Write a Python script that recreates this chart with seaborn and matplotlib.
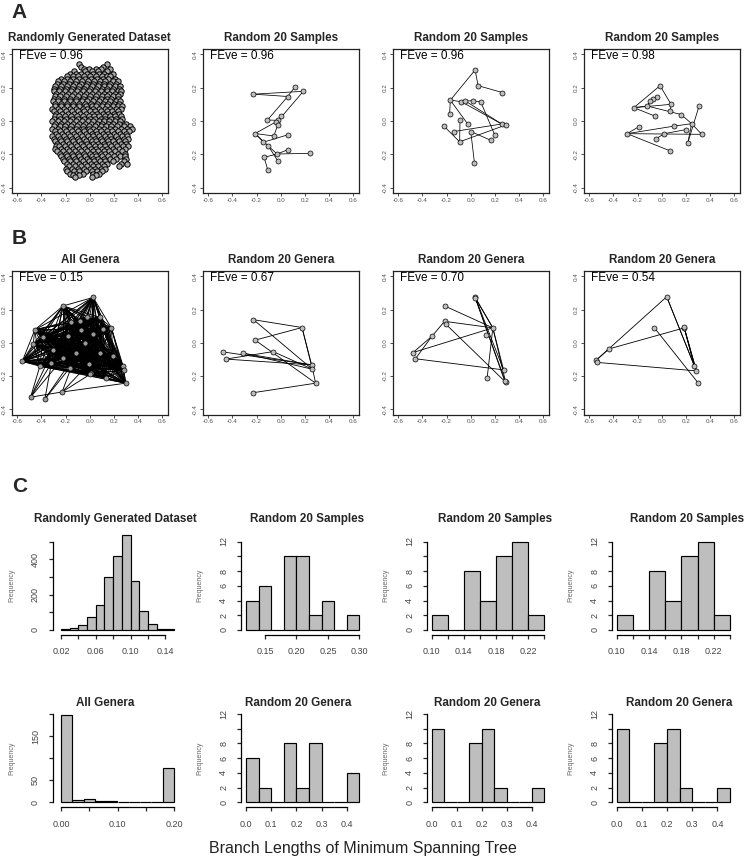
import numpy as np
import pandas as pd
import matplotlib
matplotlib.use("Agg")
import matplotlib.pyplot as plt
import seaborn as sns
from matplotlib.collections import LineCollection
from matplotlib.ticker import FixedLocator, FixedFormatter

W, H = 748, 861

# ---------------- data: panel A (trait space, MST) ----------------
# randomly generated dataset (y, xs)
blob_rows = [
    (0.34, [-0.09, 0.14]),
    (0.325, [-0.07, 0.11]),
    (0.31, [-0.05, -0.01, 0.05, 0.09, 0.17]),
    (0.298, [-0.13, -0.04, 0.02, 0.07, 0.14]),
    (0.285, [-0.16, -0.11, -0.07, -0.02, 0.03, 0.08, 0.12, 0.19]),
    (0.27, [-0.19, -0.135, -0.095, -0.045, 0.005, 0.055, 0.10, 0.145, 0.17]),
    (0.255, [-0.24, -0.19, -0.14, -0.09, -0.04, 0.01, 0.06, 0.11, 0.15, 0.21]),
    (0.24, [-0.265, -0.215, -0.165, -0.115, -0.065, -0.015, 0.035, 0.085, 0.13, 0.19, 0.23]),
    (0.225, [-0.27, -0.22, -0.17, -0.12, -0.07, -0.02, 0.03, 0.08, 0.12, 0.17, 0.22]),
    (0.21, [-0.285, -0.235, -0.185, -0.135, -0.085, -0.03, 0.02, 0.07, 0.115, 0.16, 0.21, 0.25]),
    (0.195, [-0.30, -0.25, -0.20, -0.15, -0.10, -0.05, 0.00, 0.05, 0.10, 0.14, 0.19, 0.24]),
    (0.18, [-0.295, -0.255, -0.205, -0.155, -0.105, -0.055, -0.005, 0.045, 0.095, 0.14, 0.185, 0.23, 0.26]),
    (0.165, [-0.28, -0.23, -0.18, -0.13, -0.08, -0.03, 0.02, 0.07, 0.12, 0.16, 0.21, 0.25]),
    (0.15, [-0.29, -0.245, -0.195, -0.145, -0.095, -0.045, 0.005, 0.05, 0.10, 0.145, 0.19, 0.235]),
    (0.135, [-0.30, -0.26, -0.21, -0.16, -0.11, -0.06, -0.01, 0.04, 0.09, 0.14, 0.18, 0.23]),
    (0.12, [-0.305, -0.265, -0.215, -0.165, -0.115, -0.065, -0.02, 0.03, 0.075, 0.125, 0.17, 0.215, 0.25]),
    (0.105, [-0.29, -0.24, -0.19, -0.14, -0.09, -0.04, 0.01, 0.06, 0.11, 0.15, 0.20, 0.24]),
    (0.09, [-0.285, -0.235, -0.185, -0.135, -0.085, -0.035, 0.015, 0.055, 0.10, 0.145, 0.19, 0.235, 0.27]),
    (0.075, [-0.31, -0.26, -0.21, -0.16, -0.11, -0.06, -0.02, 0.03, 0.08, 0.13, 0.17, 0.22, 0.26]),
    (0.06, [-0.30, -0.245, -0.195, -0.15, -0.095, -0.045, 0.005, 0.045, 0.095, 0.14, 0.185, 0.23]),
    (0.045, [-0.28, -0.23, -0.18, -0.13, -0.08, -0.03, 0.02, 0.06, 0.11, 0.15, 0.20, 0.24]),
    (0.03, [-0.29, -0.255, -0.205, -0.155, -0.105, -0.055, -0.01, 0.035, 0.08, 0.125, 0.17, 0.21, 0.255]),
    (0.015, [-0.30, -0.25, -0.20, -0.15, -0.10, -0.05, 0.00, 0.04, 0.09, 0.13, 0.18, 0.22, 0.27]),
    (0.0, [-0.31, -0.265, -0.215, -0.165, -0.115, -0.065, -0.015, 0.025, 0.075, 0.115, 0.16, 0.205, 0.25]),
    (-0.015, [-0.29, -0.24, -0.19, -0.14, -0.09, -0.04, 0.01, 0.06, 0.10, 0.15, 0.19, 0.24, 0.30]),
    (-0.03, [-0.30, -0.25, -0.205, -0.155, -0.105, -0.055, -0.005, 0.045, 0.09, 0.135, 0.18, 0.225, 0.28, 0.33]),
    (-0.045, [-0.31, -0.26, -0.21, -0.16, -0.11, -0.06, -0.01, 0.03, 0.08, 0.12, 0.17, 0.21, 0.26, 0.31, 0.35]),
    (-0.06, [-0.29, -0.245, -0.195, -0.145, -0.095, -0.045, 0.005, 0.05, 0.095, 0.14, 0.185, 0.23, 0.28, 0.325]),
    (-0.075, [-0.28, -0.23, -0.18, -0.13, -0.08, -0.03, 0.02, 0.06, 0.11, 0.15, 0.20, 0.25, 0.30]),
    (-0.09, [-0.31, -0.26, -0.21, -0.16, -0.115, -0.065, -0.015, 0.03, 0.075, 0.125, 0.165, 0.215, 0.265, 0.31]),
    (-0.105, [-0.30, -0.25, -0.20, -0.15, -0.10, -0.05, 0.00, 0.04, 0.09, 0.14, 0.18, 0.23, 0.28, 0.32]),
    (-0.12, [-0.285, -0.235, -0.185, -0.135, -0.085, -0.035, 0.015, 0.055, 0.105, 0.15, 0.195, 0.245, 0.29]),
    (-0.135, [-0.27, -0.22, -0.17, -0.12, -0.07, -0.02, 0.03, 0.07, 0.12, 0.16, 0.21, 0.26, 0.30]),
    (-0.15, [-0.28, -0.255, -0.205, -0.155, -0.105, -0.055, -0.01, 0.04, 0.085, 0.13, 0.175, 0.225, 0.275, 0.315]),
    (-0.165, [-0.29, -0.24, -0.19, -0.14, -0.09, -0.04, 0.01, 0.05, 0.10, 0.14, 0.19, 0.24, 0.29]),
    (-0.18, [-0.27, -0.22, -0.17, -0.12, -0.07, -0.02, 0.025, 0.07, 0.115, 0.16, 0.21, 0.265]),
    (-0.195, [-0.25, -0.20, -0.15, -0.10, -0.05, 0.00, 0.04, 0.09, 0.13, 0.18, 0.23, 0.29]),
    (-0.21, [-0.235, -0.19, -0.14, -0.09, -0.04, 0.015, 0.055, 0.105, 0.15, 0.20, 0.25, 0.29]),
    (-0.225, [-0.22, -0.17, -0.12, -0.07, -0.02, 0.03, 0.07, 0.12, 0.17, 0.22, 0.30]),
    (-0.24, [-0.21, -0.16, -0.11, -0.06, -0.01, 0.035, 0.085, 0.125, 0.19, 0.28]),
    (-0.255, [-0.19, -0.14, -0.09, -0.04, 0.01, 0.05, 0.10, 0.14, 0.26, 0.31]),
    (-0.27, [-0.175, -0.125, -0.075, -0.02, 0.025, 0.07, 0.115, 0.24]),
    (-0.285, [-0.20, -0.15, -0.10, -0.05, 0.00, 0.04, 0.09, 0.13]),
    (-0.30, [-0.185, -0.13, -0.085, -0.035, 0.015, 0.06, 0.10]),
    (-0.315, [-0.16, -0.11, -0.06, 0.03, 0.08]),
    (-0.325, [-0.14, -0.09, 0.05]),
    (-0.335, [-0.12, 0.02]),
]

a2_x = [0.116, 0.187, -0.226, 0.058, -0.110, 0.003, -0.019, -0.036, -0.025, -0.212,
        -0.058, 0.063, -0.143, -0.102, 0.063, -0.030, 0.240, -0.138, -0.025, -0.107]
a2_y = [0.204, 0.178, 0.161, 0.147, 0.006, 0.029, 0.004, -0.004, -0.025, -0.075,
        -0.090, -0.082, -0.127, -0.151, -0.171, -0.198, -0.194, -0.218, -0.239, -0.294]
a2_edges = [(2, 1), (2, 3), (0, 3), (1, 6), (3, 4), (4, 6), (5, 6), (6, 7), (7, 8), (7, 9),
            (9, 10), (9, 13), (9, 12), (12, 11), (10, 8), (13, 15), (13, 18), (15, 16),
            (15, 14), (17, 15), (17, 19)]

a3_x = [0.036, 0.061, 0.261, -0.169, -0.078, -0.044, 0.019, 0.083, -0.175, -0.089,
        -0.025, -0.222, 0.256, 0.289, -0.139, 0.000, 0.200, -0.092, 0.167, 0.031]
a3_y = [0.306, 0.212, 0.171, 0.125, 0.116, 0.120, 0.122, 0.114, 0.043, 0.004,
        -0.018, -0.031, -0.018, -0.024, -0.063, -0.063, -0.086, -0.125, -0.116, -0.253]
a3_edges = [(0, 1), (0, 3), (1, 2), (3, 8), (3, 10), (3, 4), (4, 5), (5, 6), (6, 7), (4, 12),
            (5, 12), (7, 16), (9, 17), (11, 17), (14, 12), (17, 13), (15, 18), (15, 19), (12, 13)]

a4_x = [-0.014, -0.041, -0.069, -0.099, -0.121, -0.231, 0.077, 0.072, -0.055, 0.160,
        0.309, 0.248, 0.099, -0.187, 0.204, -0.287, 0.022, 0.331, -0.047, 0.215, 0.072]
a4_y = [0.212, 0.145, 0.133, 0.118, 0.090, 0.080, 0.100, 0.059, 0.029, 0.039,
        0.090, -0.016, -0.031, -0.033, -0.051, -0.076, -0.076, -0.080, -0.106, -0.133, -0.180]
a4_edges = [(0, 5), (0, 6), (5, 6), (5, 8), (5, 4), (4, 3), (3, 2), (2, 1), (4, 9), (9, 11),
            (10, 19), (11, 17), (15, 13), (15, 12), (15, 17), (15, 20), (16, 18), (16, 14),
            (12, 11), (11, 19), (6, 7)]

# ---------------- data: panel B (genera) ----------------
b1_x = [0.028, -0.559, 0.298, 0.179, 0.275, 0.281, -0.220, -0.455, -0.490, -0.372,
        -0.229, -0.468, -0.386, -0.303, -0.152, -0.083, -0.022, -0.069, 0.083, 0.110,
        -0.179, -0.041, 0.028, -0.220, -0.110, -0.006, 0.014, 0.132, 0.083, 0.193,
        -0.317, -0.413, -0.164, 0.002]
b1_y = [0.273, -0.112, -0.243, 0.090, -0.137, -0.165, 0.222, 0.078, -0.327, -0.339,
        -0.296, -0.008, 0.035, -0.043, 0.124, 0.133, 0.157, 0.080, 0.153, 0.084,
        0.039, -0.004, 0.051, -0.092, -0.063, -0.125, -0.184, -0.210, -0.063, -0.082,
        -0.122, -0.141, -0.149, -0.190]
# three outlying genera (bottom left) are linked only to a few points
b1_outliers = [8, 9, 10]
b1_outlier_edges = [(8, 10), (10, 2), (8, 31), (8, 30), (8, 23), (9, 30), (9, 24),
                    (10, 24), (10, 25), (8, 13), (9, 32), (10, 33)]

b2_x = [-0.226, 0.176, -0.212, -0.063, -0.477, -0.309, -0.455, 0.256, 0.262, 0.289, -0.226]
b2_y = [0.139, 0.092, 0.016, -0.053, -0.055, -0.063, -0.098, -0.133, -0.159, -0.243, -0.300]
b2_edges = [(0, 1), (0, 8), (1, 2), (1, 7), (1, 8), (2, 9), (4, 7), (5, 8), (6, 7), (6, 3),
            (3, 8), (10, 9), (7, 9), (5, 7)]

b3_x = [0.036, 0.038, -0.217, -0.217, -0.206, 0.183, 0.125, -0.322, -0.479, -0.458,
        0.272, 0.136, 0.289, 0.282]
b3_y = [0.275, 0.268, 0.222, 0.129, 0.112, 0.090, 0.045, 0.039, -0.059, -0.096,
        -0.163, -0.210, -0.237, -0.232]
b3_edges = [(0, 5), (1, 5), (0, 10), (1, 12), (0, 13), (2, 5), (3, 5), (4, 12), (3, 7), (7, 8),
            (7, 9), (8, 5), (9, 10), (5, 11), (5, 10), (5, 12)]

b4_x = [0.041, 0.187, 0.184, -0.063, -0.438, -0.545, -0.534, 0.270, 0.287, 0.303]
b4_y = [0.277, 0.090, 0.094, 0.092, -0.037, -0.106, -0.118, -0.139, -0.169, -0.243]
b4_edges = [(0, 5), (0, 7), (0, 8), (1, 4), (1, 7), (2, 8), (3, 9), (6, 8), (4, 5), (2, 7), (1, 8)]

feve_a = ["0.96", "0.96", "0.96", "0.98"]
feve_b = ["0.15", "0.67", "0.70", "0.54"]
titles_a = ["Randomly Generated Dataset", "Random 20 Samples", "Random 20 Samples", "Random 20 Samples"]
titles_b = ["All Genera", "Random 20 Genera", "Random 20 Genera", "Random 20 Genera"]

# ---------------- data: panel C (histograms of branch lengths) ----------------
c_edges = [
    [0.02, 0.03, 0.04, 0.05, 0.06, 0.07, 0.08, 0.09, 0.10, 0.11, 0.12, 0.13, 0.14, 0.15],
    [0.12, 0.14, 0.16, 0.18, 0.20, 0.22, 0.24, 0.26, 0.28, 0.30],
    [0.10, 0.12, 0.14, 0.16, 0.18, 0.20, 0.22, 0.24],
    [0.10, 0.12, 0.14, 0.16, 0.18, 0.20, 0.22, 0.24],
    [0.00, 0.02, 0.04, 0.06, 0.08, 0.10, 0.12, 0.14, 0.16, 0.18, 0.20],
    [0.00, 0.05, 0.10, 0.15, 0.20, 0.25, 0.30, 0.35, 0.40, 0.45],
    [0.00, 0.05, 0.10, 0.15, 0.20, 0.25, 0.30, 0.35, 0.40, 0.45],
    [0.00, 0.05, 0.10, 0.15, 0.20, 0.25, 0.30, 0.35, 0.40, 0.45],
]
c_counts = [
    [4, 11, 27, 72, 140, 298, 418, 535, 275, 105, 32, 5, 3],
    [4, 6, 0, 10, 10, 2, 4, 0, 2],
    [2, 0, 8, 4, 10, 12, 2],
    [2, 0, 8, 4, 10, 12, 2],
    [198, 5, 8, 2, 2, 0, 0, 0, 0, 77],
    [6, 2, 0, 8, 2, 8, 0, 0, 4],
    [10, 0, 0, 8, 10, 2, 0, 0, 2],
    [10, 0, 0, 8, 10, 2, 0, 0, 2],
]
c_xticks = [
    ([0.02, 0.04, 0.06, 0.08, 0.10, 0.12, 0.14], ["0.02", "", "0.06", "", "0.10", "", "0.14"]),
    ([0.15, 0.20, 0.25, 0.30], ["0.15", "0.20", "0.25", "0.30"]),
    ([0.10, 0.12, 0.14, 0.16, 0.18, 0.20, 0.22, 0.24], ["0.10", "", "0.14", "", "0.18", "", "0.22", ""]),
    ([0.10, 0.12, 0.14, 0.16, 0.18, 0.20, 0.22, 0.24], ["0.10", "", "0.14", "", "0.18", "", "0.22", ""]),
    ([0.00, 0.05, 0.10, 0.15, 0.20], ["0.00", "", "0.10", "", "0.20"]),
    ([0.0, 0.1, 0.2, 0.3, 0.4], ["0.0", "0.1", "0.2", "0.3", "0.4"]),
    ([0.0, 0.1, 0.2, 0.3, 0.4], ["0.0", "0.1", "0.2", "0.3", "0.4"]),
    ([0.0, 0.1, 0.2, 0.3, 0.4], ["0.0", "0.1", "0.2", "0.3", "0.4"]),
]
y12 = ([0, 2, 4, 6, 8, 10, 12], ["0", "2", "4", "6", "8", "", "12"])
c_yticks = [
    ([0, 100, 200, 300, 400, 500], ["0", "", "200", "", "400", ""]),
    y12, y12, y12,
    ([0, 50, 100, 150, 200], ["0", "50", "", "150", ""]),
    y12, y12, y12,
]
titles_c = ["Randomly Generated Dataset", "Random 20 Samples", "Random 20 Samples", "Random 20 Samples",
            "All Genera", "Random 20 Genera", "Random 20 Genera", "Random 20 Genera"]

# ---------------- style ----------------
sns.set_style("white")
plt.rcParams["font.family"] = ["Liberation Sans", "DejaVu Sans"]
GREY = "#bebebe"

fig = plt.figure(figsize=(W / 100, H / 100), dpi=100)
fig.patch.set_facecolor("white")


def px_axes(left, top, width, height):
    return fig.add_axes([left / W, 1 - (top + height) / H, width / W, height / H])


def fig_text(x, y, s, **kw):
    fig.text(x / W, 1 - y / H, s, **kw)


def mst_edges(xs, ys):
    pts = np.column_stack([xs, ys])
    n = len(pts)
    d = np.hypot(pts[:, None, 0] - pts[None, :, 0], pts[:, None, 1] - pts[None, :, 1])
    in_tree = np.zeros(n, bool)
    in_tree[0] = True
    best = d[0].copy()
    parent = np.zeros(n, int)
    out = []
    for _ in range(n - 1):
        j = int(np.argmin(np.where(in_tree, np.inf, best)))
        out.append((parent[j], j))
        in_tree[j] = True
        upd = d[j] < best
        best[upd] = d[j][upd]
        parent[upd] = j
    return out


def draw_network(ax, xs, ys, edges, title, feve, lw=0.6, size=13, edge_lw=0.5, face=GREY):
    xs = np.asarray(xs)
    ys = np.asarray(ys)
    segs = [[(xs[i], ys[i]), (xs[j], ys[j])] for i, j in edges]
    ax.add_collection(LineCollection(segs, colors="black", linewidths=lw, zorder=1))
    sns.scatterplot(x=xs, y=ys, ax=ax, s=size, color=face, edgecolor="black",
                    linewidth=edge_lw, zorder=2, legend=False)
    ax.set_xlim(-0.648, 0.648)
    ax.set_ylim(-0.432, 0.432)
    ax.set_xlabel("")
    ax.set_ylabel("")
    ax.set_xticks([-0.6, -0.4, -0.2, 0.0, 0.2, 0.4, 0.6])
    ax.set_xticklabels(["-0.6", "-0.4", "-0.2", "0.0", "0.2", "0.4", "0.6"])
    ax.set_yticks([-0.4, -0.2, 0.0, 0.2, 0.4])
    ax.set_yticklabels(["-0.4", "-0.2", "0.0", "0.2", "0.4"], rotation=90, va="center")
    ax.tick_params(axis="both", direction="out", length=2, width=0.6, pad=1.3,
                   labelsize=4.5, labelcolor="#555555", color="#333333",
                   bottom=True, left=True)
    for sp in ax.spines.values():
        sp.set_visible(True)
        sp.set_color("#222222")
        sp.set_linewidth(0.9)
    ax.text(0.05, 0.95, "FEve = " + feve, transform=ax.transAxes, fontsize=8.5,
            ha="left", va="center", color="black")
    ax.set_title(title, fontsize=8.4, fontweight="bold", pad=6)


# ---------------- A and B rows ----------------
box_left = [11.5, 202.5, 392.5, 583.5]
box_w = 156.5

blob_x = [x for _, xs in blob_rows for x in xs]
blob_y = [y for y, xs in blob_rows for _ in xs]

a_data = [(blob_x, blob_y, mst_edges(blob_x, blob_y)),
          (a2_x, a2_y, a2_edges), (a3_x, a3_y, a3_edges), (a4_x, a4_y, a4_edges)]
for k, (xs, ys, ed) in enumerate(a_data):
    ax = px_axes(box_left[k], 49, box_w, 144)
    if k == 0:
        draw_network(ax, xs, ys, ed, titles_a[k], feve_a[k], lw=0.7, size=15,
                     edge_lw=0.7, face="#a8a8a8")
    else:
        draw_network(ax, xs, ys, ed, titles_a[k], feve_a[k], lw=0.55)

core = [i for i in range(len(b1_x)) if i not in b1_outliers]
b1_edges = [(i, j) for a, i in enumerate(core) for j in core[a + 1:]] + b1_outlier_edges
b_data = [(b1_x, b1_y, b1_edges), (b2_x, b2_y, b2_edges),
          (b3_x, b3_y, b3_edges), (b4_x, b4_y, b4_edges)]
for k, (xs, ys, ed) in enumerate(b_data):
    ax = px_axes(box_left[k], 271, box_w, 143.6)
    if k == 0:
        draw_network(ax, xs, ys, ed, titles_b[k], feve_b[k], lw=0.65, face="#9a9a9a")
    else:
        draw_network(ax, xs, ys, ed, titles_b[k], feve_b[k], lw=0.6)

# ---------------- C histograms ----------------
col_axis = [52.5, 240.7, 426.7, 611.7]
col_bl = [61.0, 246.2, 431.7, 616.7]
col_br = [174.0, 359.3, 544.3, 730.0]
rows = [dict(axis=635.0, zero=630.0, maxtick=541.5, top=525.0, title_y=519),
        dict(axis=807.3, zero=802.3, maxtick=714.0, top=700.0, title_y=703)]
title_cx = [[115, 307, 495.5, 687], [105, 298.3, 487.5, 679.3]]

for k in range(8):
    r, c = divmod(k, 4)
    rw = rows[r]
    edges_ = [float(e) for e in c_edges[k]]
    counts = [float(v) for v in c_counts[k]]
    L, bl, br = col_axis[c], col_bl[c], col_br[c]
    gap = bl - L
    width_px = (br - L) + gap
    ax = px_axes(L, rw["top"], width_px, rw["axis"] - rw["top"])
    df = pd.DataFrame({
        "length": [(a + b) / 2 for a, b in zip(edges_[:-1], edges_[1:])],
        "freq": counts,
    })
    sns.histplot(data=df, x="length", weights="freq", bins=edges_, ax=ax, color=GREY,
                 edgecolor="black", linewidth=0.85, alpha=1)
    lo, hi = edges_[0], edges_[-1]
    sc = (hi - lo) / (br - bl)
    ax.set_xlim(lo - gap * sc, hi + gap * sc)
    yt, yl = c_yticks[k]
    pxu = (rw["zero"] - rw["maxtick"]) / yt[-1]
    ax.set_ylim(-(rw["axis"] - rw["zero"]) / pxu, (rw["zero"] - rw["top"]) / pxu)
    xt, xl = c_xticks[k]
    ax.xaxis.set_major_locator(FixedLocator(xt))
    ax.xaxis.set_major_formatter(FixedFormatter(xl))
    ax.yaxis.set_major_locator(FixedLocator(yt))
    ax.yaxis.set_major_formatter(FixedFormatter(yl))
    for lab in ax.get_yticklabels():
        lab.set_rotation(90)
        lab.set_va("center")
    ax.set_xlabel("")
    ax.set_ylabel("")
    sns.despine(ax=ax)
    ax.spines["left"].set_bounds(yt[0], yt[-1])
    ax.spines["bottom"].set_bounds(xt[0], xt[-1])
    for s in ("left", "bottom"):
        ax.spines[s].set_linewidth(0.9)
        ax.spines[s].set_color("black")
    ax.tick_params(axis="both", direction="out", length=3, width=0.9, pad=6,
                   labelsize=6.5, labelcolor="#444444", bottom=True, left=True)
    fig_text(title_cx[r][c], rw["title_y"], titles_c[k], fontsize=8.4, fontweight="bold",
             ha="center", va="center")
    fig_text(L - 41, (rw["zero"] + rw["maxtick"]) / 2, "Frequency", fontsize=5,
             rotation=90, ha="center", va="center", color="#666666")

# ---------------- panel letters and common label ----------------
fig_text(11, 13, "A", fontsize=15, fontweight="bold", ha="left", va="center")
fig_text(12, 239, "B", fontsize=15, fontweight="bold", ha="left", va="center")
fig_text(12, 486, "C", fontsize=15, fontweight="bold", ha="left", va="center")
fig_text(363, 848, "Branch Lengths of Minimum Spanning Tree", fontsize=11.5,
         ha="center", va="center", color="#222222")

fig.savefig("out.png", dpi=100, facecolor="white")
